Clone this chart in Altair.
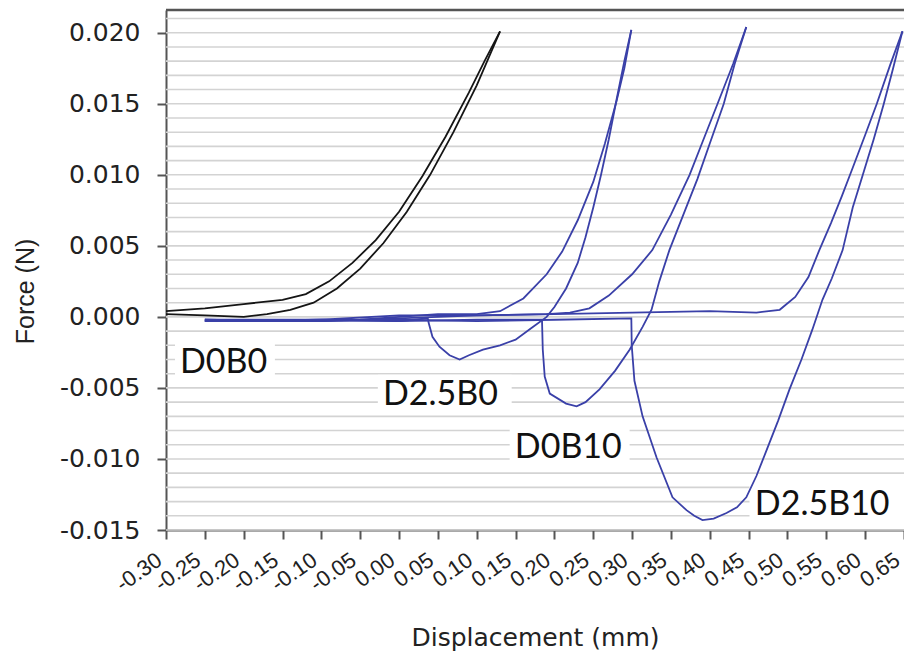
import altair as alt
import pandas as pd

# ---------------- data ----------------
d0b0_load_x = [-0.300, -0.250, -0.200, -0.170, -0.140, -0.110, -0.080, -0.050, -0.020, 0.010, 0.040, 0.070, 0.100, 0.130]
d0b0_load_y = [0.0002, 0.0001, 0.0000, 0.0002, 0.0005, 0.0010, 0.0020, 0.0034, 0.0052, 0.0074, 0.0100, 0.0130, 0.0163, 0.0201]
d0b0_unload_x = [0.130, 0.110, 0.090, 0.060, 0.030, 0.000, -0.030, -0.060, -0.090, -0.120, -0.150, -0.200, -0.250, -0.300]
d0b0_unload_y = [0.0201, 0.0180, 0.0158, 0.0127, 0.0099, 0.0074, 0.0054, 0.0038, 0.0025, 0.0016, 0.0012, 0.0009, 0.0006, 0.0004]

d25b0_load_x = [-0.25, -0.15, -0.05, 0.00, 0.05, 0.10, 0.13, 0.16, 0.19, 0.21, 0.23, 0.25, 0.265, 0.28, 0.29, 0.299]
d25b0_load_y = [-0.0002, -0.0003, -0.0002, 0.0000, 0.0002, 0.0002, 0.0004, 0.0013, 0.0030, 0.0046, 0.0068, 0.0095, 0.0122, 0.0152, 0.0175, 0.0202]
d25b0_unload_x = [0.299, 0.29, 0.28, 0.27, 0.26, 0.25, 0.24, 0.23, 0.215, 0.20, 0.19, 0.17, 0.15, 0.13, 0.108, 0.09,
                  0.078, 0.065, 0.052, 0.043, 0.038, 0.037, 0.00, -0.10, -0.20, -0.25]
d25b0_unload_y = [0.0202, 0.0180, 0.0153, 0.0125, 0.0100, 0.0077, 0.0056, 0.0038, 0.0020, 0.0007, 0.0000, -0.0008,
                  -0.0016, -0.0020, -0.0023, -0.0027, -0.0030, -0.0027, -0.0021, -0.0014, -0.0004, -0.0001,
                  -0.0003, -0.0002, -0.0003, -0.0003]

d0b10_load_x = [-0.25, -0.10, 0.00, 0.10, 0.19, 0.22, 0.245, 0.27, 0.30, 0.326, 0.35, 0.374, 0.392, 0.41, 0.43, 0.447]
d0b10_load_y = [-0.0002, -0.0002, 0.0001, 0.0001, 0.0002, 0.0003, 0.0006, 0.0015, 0.0030, 0.0047, 0.0072, 0.0100, 0.0125, 0.0150, 0.0178, 0.0204]
d0b10_unload_x = [0.447, 0.432, 0.418, 0.40, 0.384, 0.366, 0.348, 0.335, 0.325, 0.3135, 0.297, 0.278, 0.258, 0.24,
                  0.2286, 0.215, 0.194, 0.1875, 0.185, 0.184, 0.10, 0.00, -0.10, -0.25]
d0b10_unload_y = [0.0204, 0.0178, 0.0150, 0.0122, 0.0097, 0.0072, 0.0047, 0.0025, 0.0005, -0.0007, -0.0023, -0.0038,
                  -0.0051, -0.0060, -0.0063, -0.0061, -0.0054, -0.0042, -0.0023, -0.0002, -0.0002, -0.0003,
                  -0.0002, -0.0003]

d25b10_load_x = [-0.25, -0.10, 0.00, 0.10, 0.20, 0.30, 0.40, 0.46, 0.49, 0.51, 0.527, 0.541, 0.556, 0.57, 0.584,
                 0.60, 0.615, 0.632, 0.648]
d25b10_load_y = [-0.0002, -0.0003, -0.0001, 0.0001, 0.0002, 0.0003, 0.0004, 0.0003, 0.0005, 0.0014, 0.0028, 0.0047,
                 0.0066, 0.0085, 0.0105, 0.0128, 0.0150, 0.0177, 0.0201]
d25b10_unload_x = [0.648, 0.636, 0.624, 0.611, 0.597, 0.584, 0.571, 0.557, 0.545, 0.532, 0.518, 0.5026, 0.488, 0.473,
                   0.46, 0.447, 0.435, 0.4215, 0.405, 0.3906, 0.38, 0.370, 0.352, 0.3315, 0.3135, 0.303, 0.2995,
                   0.299, 0.20, 0.10, 0.00, -0.10, -0.25]
d25b10_unload_y = [0.0201, 0.0175, 0.0150, 0.0125, 0.0100, 0.0077, 0.0047, 0.0027, 0.0012, -0.0009, -0.0030, -0.0051,
                   -0.0073, -0.0094, -0.0112, -0.0127, -0.0134, -0.0138, -0.0142, -0.0143, -0.0140, -0.0136,
                   -0.0127, -0.0099, -0.0070, -0.0045, -0.0020, -0.0001, -0.0002, -0.0003, -0.0002, -0.0003, -0.0003]

label_text = ["D0B0", "D2.5B0", "D0B10", "D2.5B10"]
label_x = [-0.282, -0.0207, 0.149, 0.458]
label_y = [-0.00394, -0.0062, -0.00993, -0.01394]
box_x1 = [-0.2884, -0.0273, 0.1424, 0.4511]
box_x2 = [-0.1598, 0.1450, 0.2968, 0.6505]
box_y1 = [-0.00162, -0.00408, -0.00782, -0.01183]
box_y2 = [-0.00444, -0.00676, -0.01049, -0.01451]

x_ticks = [-0.30, -0.25, -0.20, -0.15, -0.10, -0.05, 0.00, 0.05, 0.10, 0.15, 0.20, 0.25, 0.30,
           0.35, 0.40, 0.45, 0.50, 0.55, 0.60, 0.65]
y_ticks = [-0.015, -0.010, -0.005, 0.000, 0.005, 0.010, 0.015, 0.020]
y_grid = [-0.015, -0.014, -0.013, -0.012, -0.011, -0.010, -0.009, -0.008, -0.007, -0.006, -0.005, -0.004,
          -0.003, -0.002, -0.001, 0.000, 0.001, 0.002, 0.003, 0.004, 0.005, 0.006, 0.007, 0.008, 0.009,
          0.010, 0.011, 0.012, 0.013, 0.014, 0.015, 0.016, 0.017, 0.018, 0.019, 0.020, 0.021]
y_top = [0.0216]

# ---------------- build tables ----------------
curves = [
    ("D0B0 load", "D0B0", d0b0_load_x, d0b0_load_y),
    ("D0B0 unload", "D0B0", d0b0_unload_x, d0b0_unload_y),
    ("D2.5B0 load", "blue", d25b0_load_x, d25b0_load_y),
    ("D2.5B0 unload", "blue", d25b0_unload_x, d25b0_unload_y),
    ("D0B10 load", "blue", d0b10_load_x, d0b10_load_y),
    ("D0B10 unload", "blue", d0b10_unload_x, d0b10_unload_y),
    ("D2.5B10 load", "blue", d25b10_load_x, d25b10_load_y),
    ("D2.5B10 unload", "blue", d25b10_unload_x, d25b10_unload_y),
]
rows = []
for name, grp, xs, ys in curves:
    for i, (xv, yv) in enumerate(zip(xs, ys)):
        rows.append({"curve": name, "grp": grp, "i": i, "x": xv, "y": yv})
df = pd.DataFrame(rows)

labels = pd.DataFrame({"t": label_text, "x": label_x, "y": label_y})
boxes = pd.DataFrame({"x": box_x1, "x2": box_x2, "y": box_y1, "y2": box_y2})
grid = pd.DataFrame({"y": y_grid})
top = pd.DataFrame({"y": y_top})

xscale = alt.Scale(domain=[-0.30, 0.65], nice=False, zero=False)
yscale = alt.Scale(domain=[-0.015, 0.0216], nice=False, zero=False)

xaxis = alt.Axis(
    values=x_ticks, title="Displacement (mm)", grid=False,
    labelExpr="(datum.value < -0.0001 ? '-' : '') + format(abs(datum.value), '.2f')",
    labelAngle=-35, labelAlign="right", labelBaseline="alphabetic", labelPadding=24, labelOffset=-3,
    labelFont="Liberation Sans", labelFontSize=22, labelColor="#222222",
    labelOverlap=False, labelFlush=False, labelBound=False,
    tickSize=9, tickColor="#555555", tickWidth=2, domainColor="#555555", domainWidth=2,
    titleFont="DejaVu Sans", titleFontSize=25, titleFontWeight="normal", titleColor="#222222",
    titleY=115, titleBaseline="alphabetic",
)
yaxis = alt.Axis(
    values=y_ticks, title="Force (N)", grid=False,
    labelExpr="(datum.value < -0.0001 ? '-' : '') + format(abs(datum.value), '.3f')",
    labelFont="DejaVu Sans", labelFontSize=25, labelColor="#222222", labelPadding=17,
    labelOverlap=False, labelFlush=False, labelBound=False,
    tickSize=9, tickColor="#555555", tickWidth=2, domainColor="#555555", domainWidth=2,
    titleFont="Liberation Sans", titleFontSize=25, titleFontWeight="normal", titleColor="#222222",
    titleX=-141, titleY=281, titleAlign="center", titleBaseline="middle", titleAngle=-90,
)

grid_layer = alt.Chart(grid).mark_rule(color="#d3d3d3", strokeWidth=1.6).encode(
    y=alt.Y("y:Q", scale=yscale, axis=yaxis)
)
box_layer = alt.Chart(boxes).mark_rect(color="white").encode(
    x=alt.X("x:Q", scale=xscale, axis=xaxis), x2="x2:Q",
    y=alt.Y("y:Q", scale=yscale, axis=yaxis), y2="y2:Q",
)
line_layer = alt.Chart(df).mark_line(strokeWidth=1.8).encode(
    x=alt.X("x:Q", scale=xscale, axis=xaxis),
    y=alt.Y("y:Q", scale=yscale, axis=yaxis),
    color=alt.Color("grp:N", scale=alt.Scale(domain=["D0B0", "blue"], range=["#151515", "#3a40a8"]), legend=None),
    detail="curve:N",
    order="i:Q",
)
text_layer = alt.Chart(labels).mark_text(
    font="Lato", fontSize=34, align="left", baseline="alphabetic", color="#111111"
).encode(
    x=alt.X("x:Q", scale=xscale, axis=xaxis),
    y=alt.Y("y:Q", scale=yscale, axis=yaxis),
    text="t:N",
)
top_layer = alt.Chart(top).mark_rule(color="#555555", strokeWidth=2.5).encode(
    y=alt.Y("y:Q", scale=yscale, axis=yaxis)
)

chart = alt.layer(grid_layer, box_layer, line_layer, text_layer, top_layer).properties(
    width=738, height=520,
    autosize=alt.AutoSizeParams(type="none"),
    padding={"left": 158, "top": 2, "right": 0, "bottom": 121},
).configure_view(stroke=None).configure(background="white")

chart.save("out.html", embed_options={"renderer": "svg", "actions": False})
